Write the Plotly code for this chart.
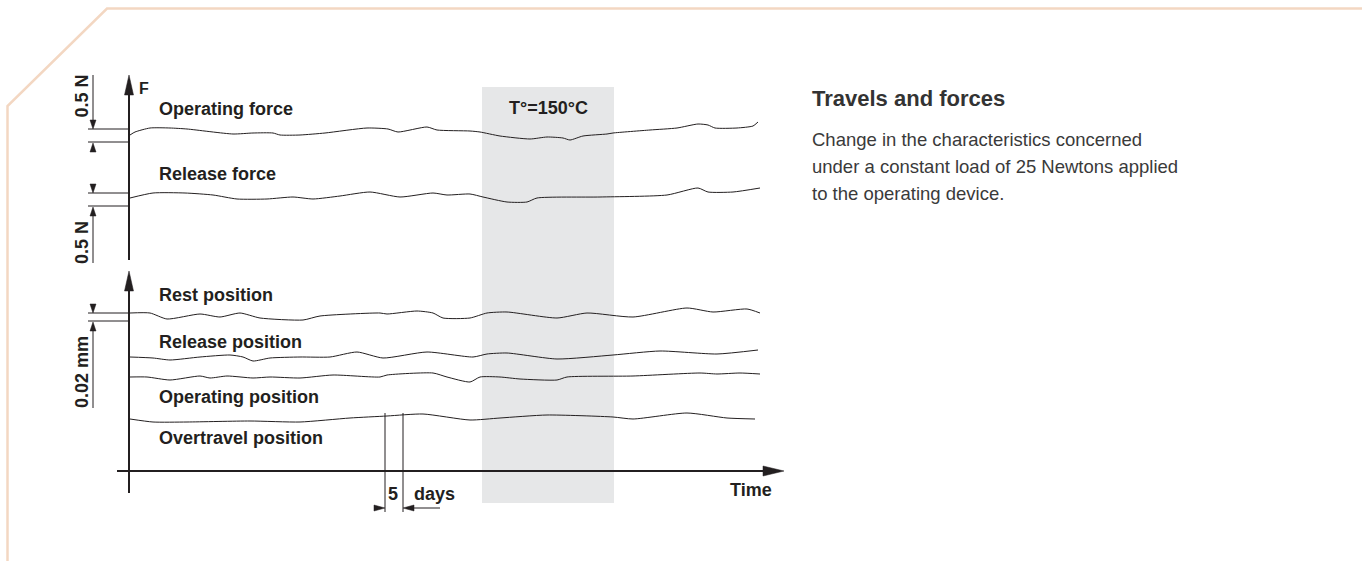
import plotly.graph_objects as go

W, H = 1362, 561
INK = "#231f20"
FONT = "Liberation Sans, Arial, sans-serif"

# ---- curve data (time position, value) ----
op_force_x = [130, 135, 150, 170, 187, 233, 253, 273, 280, 300, 325, 367, 388, 398, 427, 437, 470, 480, 500, 530, 547, 563, 570, 583, 607, 613, 650, 677, 698, 708, 715, 737, 753, 758]
op_force_y = [135, 132, 128, 128, 129, 134, 133, 133, 135, 135, 133, 128, 129, 132, 127, 130, 131, 132, 136, 139, 137, 138, 140, 136, 134, 133, 130, 128, 124, 125, 128, 128, 126, 122]

rel_force_x = [130, 153, 185, 213, 237, 267, 293, 313, 340, 370, 400, 433, 447, 470, 483, 507, 527, 537, 600, 667, 698, 708, 733, 760]
rel_force_y = [198, 193, 193, 195, 199, 199, 197, 199, 196, 192, 197, 193, 195, 194, 197, 202, 202, 198, 197, 195, 188, 192, 192, 188]

rest_pos_x = [130, 150, 167, 200, 220, 240, 260, 303, 320, 380, 387, 417, 433, 443, 470, 487, 507, 557, 587, 633, 687, 713, 747, 760]
rest_pos_y = [313, 313, 319, 314, 317, 313, 318, 320, 316, 313, 314, 311, 313, 318, 318, 313, 312, 318, 313, 317, 308, 312, 309, 313]

rel_pos_x = [130, 153, 170, 200, 230, 243, 253, 270, 300, 330, 357, 383, 427, 473, 487, 507, 557, 613, 660, 717, 758]
rel_pos_y = [357, 358, 360, 357, 355, 357, 361, 358, 357, 357, 352, 358, 352, 357, 354, 353, 359, 355, 351, 354, 350]

op_pos_x = [130, 147, 170, 200, 210, 227, 253, 270, 300, 333, 380, 387, 433, 447, 470, 480, 500, 520, 557, 567, 633, 700, 717, 740, 760]
op_pos_y = [377, 377, 380, 376, 378, 376, 378, 377, 378, 375, 377, 375, 373, 377, 382, 377, 377, 379, 380, 377, 376, 373, 374, 373, 374]

over_pos_x = [130, 153, 187, 250, 300, 350, 387, 423, 470, 500, 547, 613, 633, 687, 727, 755]
over_pos_y = [419, 422, 422, 421, 422, 418, 416, 414, 420, 418, 415, 417, 419, 413, 418, 419]

curve_labels = ["Operating force", "Release force", "Rest position",
                "Release position", "Operating position", "Overtravel position"]
curve_label_y = [108.5, 174, 295, 341.5, 396.5, 438]

heat_span = [482, 614]          # T = 150 °C period
heat_label = "T°=150°C"
days_marks = [385, 403]         # 5 days interval

title = "Travels and forces"
paragraph = ["Change in the characteristics concerned",
             "under a constant load of 25 Newtons applied",
             "to the operating device."]

curves = [(op_force_x, op_force_y), (rel_force_x, rel_force_y),
          (rest_pos_x, rest_pos_y), (rel_pos_x, rel_pos_y),
          (op_pos_x, op_pos_y), (over_pos_x, over_pos_y)]

fig = go.Figure()
for (xs, ys), name in zip(curves, curve_labels):
    fig.add_trace(go.Scatter(x=xs, y=ys, mode="lines", name=name,
                             line=dict(color=INK, width=1, shape="spline", smoothing=0.6),
                             hoverinfo="skip", showlegend=False))

shapes = []

def line(x0, y0, x1, y1, w=1, color=INK):
    shapes.append(dict(type="line", x0=x0, y0=y0, x1=x1, y1=y1,
                       line=dict(color=color, width=w), layer="above"))

def tri(pts):
    p = "M " + " L ".join(f"{x},{y}" for x, y in pts) + " Z"
    shapes.append(dict(type="path", path=p, fillcolor=INK, line=dict(color=INK, width=0.5), layer="above"))

# border
shapes.append(dict(type="path", path=f"M 7.5,{H} L 7.5,106 L 107,8.5 L {W},8.5",
                   line=dict(color="#f3d7c2", width=2.5), layer="below"))
# heated band
shapes.append(dict(type="rect", x0=heat_span[0], x1=heat_span[1], y0=87, y1=503,
                   fillcolor="#e6e7e8", line=dict(width=0), layer="below"))

# axes
line(129, 90, 129, 260, 2)
tri([(129, 75), (124.5, 95), (133.5, 95)])
line(129, 285, 129, 493, 2)
tri([(129, 271), (124.5, 291), (133.5, 291)])
line(117, 471, 766, 471, 2)
tri([(784, 471), (763, 466), (763, 476)])

# dimension marks, forces
for ya, yb, top, bot in [(129, 142, 75, None), (193, 206, None, 263)]:
    line(88, ya, 130, ya)
    line(88, yb, 130, yb)
    tri([(93, ya), (90, ya - 9), (96, ya - 9)])
    tri([(93, yb + 1), (90, yb + 10), (96, yb + 10)])
    if top is not None:
        line(93, top, 93, ya - 8)
    if bot is not None:
        line(93, yb + 9, 93, bot)
# dimension marks, positions
line(88, 313, 130, 313)
line(88, 321, 130, 321)
tri([(93, 313), (90, 304), (96, 304)])
tri([(93, 322), (90, 331), (96, 331)])
line(93, 330, 93, 408)

# 5 days marker
line(days_marks[0], 413, days_marks[0], 512)
line(days_marks[1], 413, days_marks[1], 512)
tri([(days_marks[0], 508), (days_marks[0] - 11, 505), (days_marks[0] - 11, 511)])
tri([(days_marks[1], 508), (days_marks[1] + 11, 505), (days_marks[1] + 11, 511)])
line(days_marks[1] + 10, 508, 440, 508)

ann = []

def text(x, y, s, size=18, bold=True, xanchor="left", angle=0, color=INK, family=FONT):
    ann.append(dict(x=x, y=y, text=f"<b>{s}</b>" if bold else s, showarrow=False,
                    xanchor=xanchor, yanchor="middle", textangle=angle,
                    font=dict(family=family, size=size, color=color)))

for lab, y in zip(curve_labels, curve_label_y):
    text(157, y, lab)
text(137, 88.5, "F", size=16)
text((heat_span[0] + heat_span[1]) / 2, 107.5, heat_label, xanchor="center")
text(774, 489.5, "Time", xanchor="right")
text(393, 493.5, "5", xanchor="center")
text(434, 493.5, "days", xanchor="center")
text(81.5, 96, "0.5 N", angle=-90, xanchor="center")
text(81.5, 242.5, "0.5 N", angle=-90, xanchor="center")
text(81.5, 372.5, "0.02 mm", angle=-90, xanchor="center")

text(810, 98, title, size=22, color="#333333")
for i, s in enumerate(paragraph):
    text(810, 139 + 27 * i, s, size=18.5, bold=False, color="#3a3a3a")

fig.update_layout(width=W, height=H, margin=dict(l=0, r=0, t=0, b=0),
                  paper_bgcolor="white", plot_bgcolor="white",
                  xaxis=dict(range=[0, W], visible=False, fixedrange=True),
                  yaxis=dict(range=[H, 0], visible=False, fixedrange=True),
                  shapes=shapes, annotations=ann, showlegend=False)
fig.write_html("out.html", config={"displayModeBar": False},
               post_script="document.body.style.margin='0px';")
